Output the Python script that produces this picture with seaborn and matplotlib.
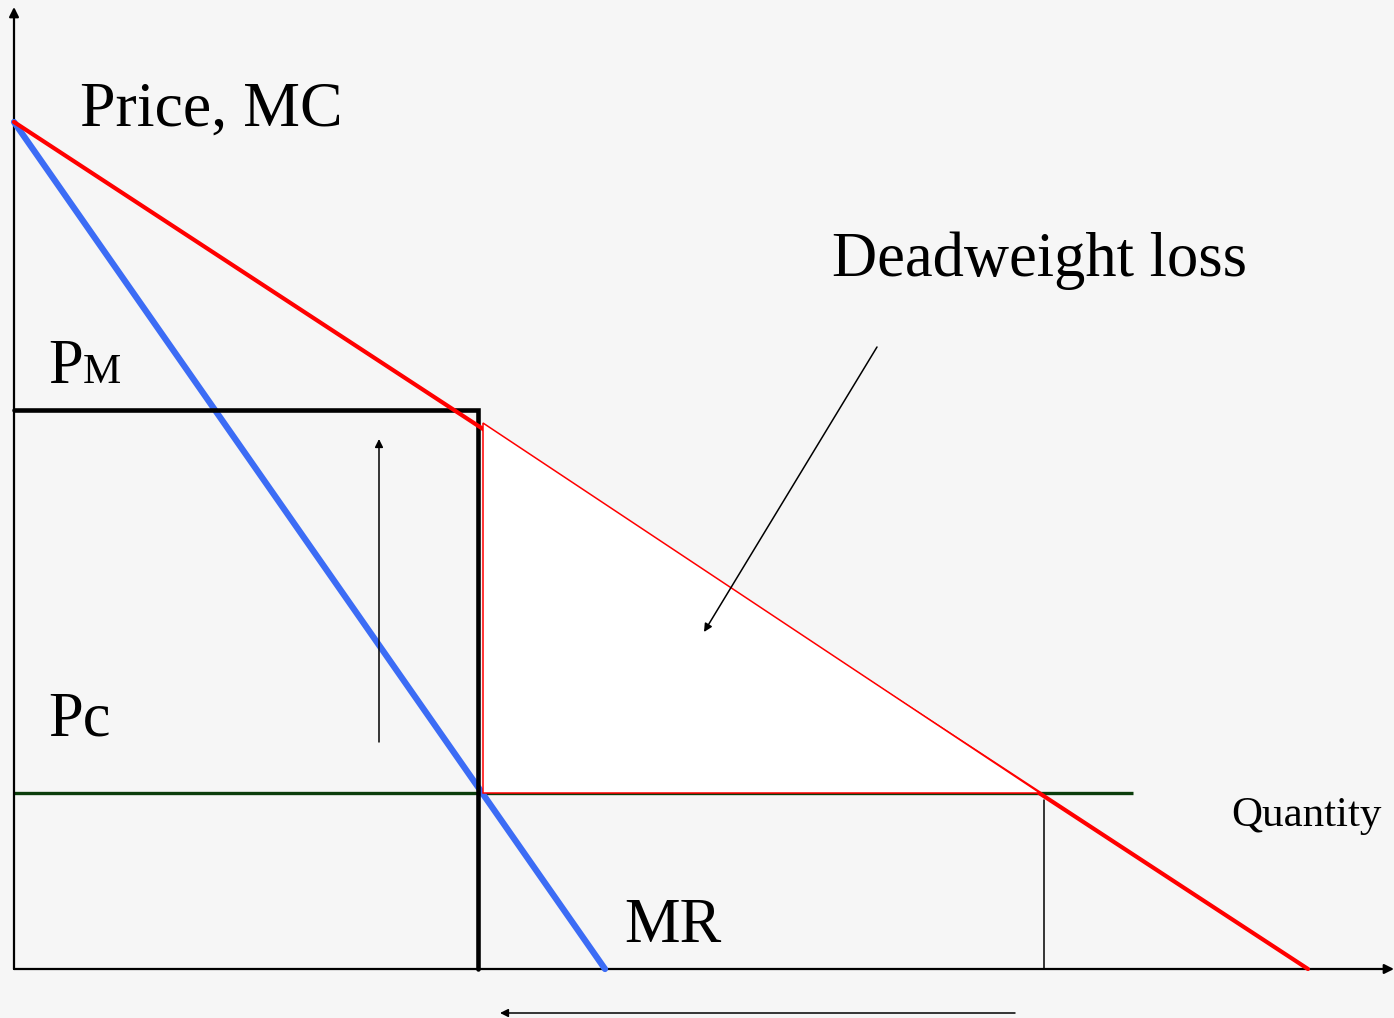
import matplotlib.pyplot as plt
import pandas as pd
import seaborn as sns

# quantity / price in chart units (origin = axes corner)
DEMAND_Q = [0, 1294]
DEMAND_P = [847, 0]
MR_Q = [0, 591]
MR_P = [847, 0]

Q_M = 464
P_M = 559
P_C = 176
Q_C = 1030
PC_LINE_END = 1119

DWL_Q = [469, 469, 1026]
DWL_P = [546, 176, 176]

BG = "#f6f6f6"


def main() -> None:
    sns.set_theme(style="white")
    plt.rcParams["font.family"] = ["Liberation Serif", "DejaVu Serif"]
    plt.rcParams["text.color"] = "black"

    fig = plt.figure(figsize=(13.94, 10.18), dpi=100, facecolor=BG)
    ax = fig.add_axes([0, 0, 1, 1])
    ax.set_facecolor(BG)
    ax.set_xlim(-14, 1380)
    ax.set_ylim(-49, 969)
    ax.axis("off")

    # axes with arrow heads
    axis_arrow = dict(arrowstyle="-|>", lw=1.6, color="black", mutation_scale=14, shrinkA=0, shrinkB=0)
    ax.annotate("", xy=(0, 962), xytext=(0, 0), arrowprops=axis_arrow)
    ax.annotate("", xy=(1380, 0), xytext=(0, 0), arrowprops=axis_arrow)

    # competitive price line
    ax.plot([0, PC_LINE_END], [P_C, P_C], color="#0b3d0b", lw=2.4, solid_capstyle="butt", zorder=2)

    # MR curve
    mr = pd.DataFrame({"q": MR_Q, "p": MR_P})
    sns.lineplot(data=mr, x="q", y="p", ax=ax, color="#3c6cf5", lw=4.5, sort=False, zorder=4)

    # monopoly price / quantity
    ax.plot([0, Q_M, Q_M], [P_M, P_M, 0], color="black", lw=3.3, solid_joinstyle="miter", zorder=5)

    # demand curve
    demand = pd.DataFrame({"q": DEMAND_Q, "p": DEMAND_P})
    sns.lineplot(data=demand, x="q", y="p", ax=ax, color="#ff0000", lw=3.0, sort=False, zorder=6)

    # deadweight loss triangle (covers demand curve between Qm and Qc)
    ax.fill(DWL_Q, DWL_P, facecolor="white", edgecolor="#ff0000", lw=1.1, zorder=7)

    # competitive quantity marker
    ax.plot([Q_C, Q_C], [0, 169], color="black", lw=1.1, zorder=5)

    # arrows
    arrow = dict(arrowstyle="-|>", lw=1.1, color="black", mutation_scale=12, shrinkA=0, shrinkB=0)
    ax.annotate("", xy=(365, 530), xytext=(365, 227), arrowprops=arrow, zorder=8)
    ax.annotate("", xy=(486, -44), xytext=(1001, -44), arrowprops=arrow, zorder=8)
    ax.annotate("", xy=(690, 337), xytext=(863, 622), arrowprops=arrow, zorder=8)

    # labels
    ax.text(66, 843, "Price, MC", fontsize=46, va="baseline", ha="left")
    ax.text(818, 693, "Deadweight loss", fontsize=45, va="baseline", ha="left")
    ax.text(34, 586, "P", fontsize=45, va="baseline", ha="left")
    ax.text(69, 586, "M", fontsize=31, va="baseline", ha="left")
    ax.text(34, 234, "Pc", fontsize=45, va="baseline", ha="left")
    ax.text(610, 27, "MR", fontsize=45, va="baseline", ha="left")
    ax.text(1217, 143, "Quantity", fontsize=31, va="baseline", ha="left")

    fig.savefig("out.png", dpi=100, facecolor=BG)
    plt.close(fig)


if __name__ == "__main__":
    main()
